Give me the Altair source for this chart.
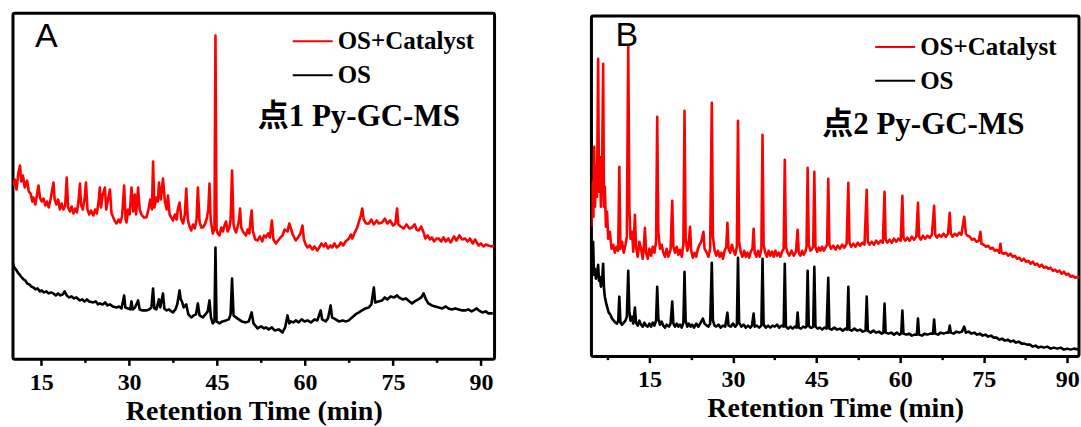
import altair as alt
import pandas as pd

# ---------------- data (retention time in min, intensity in a.u.) ----------------
A_red_t = [10.2,10.5,10.8,11.1,11.4,11.6,11.9,12.2,12.6,12.9,13.2,13.5,13.7,14.0,14.3,14.55,14.8,15.1,15.4,15.7,
           16.0,16.3,16.6,16.9,17.1,17.3,17.6,17.9,18.2,18.5,18.8,19.1,19.36,19.6,19.9,20.2,20.5,20.8,21.1,21.4,
           21.62,21.8,22.1,22.4,22.64,22.9,23.2,23.5,23.9,24.2,24.5,24.8,25.0,25.2,25.5,25.87,26.1,26.4,26.72,27.0,
           27.3,27.6,27.85,28.2,28.5,28.8,29.15,29.4,29.55,29.8,30.1,30.4,30.7,30.96,31.2,31.53,31.8,32.1,32.5,32.94,
           33.3,33.6,33.9,34.08,34.3,34.64,34.9,35.09,35.4,35.77,36.1,36.4,36.62,36.9,37.2,37.47,37.8,38.1,38.3,38.6,
           38.9,39.2,39.5,39.74,40.0,40.3,40.59,40.9,41.2,41.5,41.72,42.0,42.3,42.57,42.9,43.2,43.5,43.7,43.9,44.26,
           44.55,44.72,44.9,45.1,45.4,45.7,46.0,46.3,46.53,46.8,47.1,47.3,47.55,47.8,48.0,48.23,48.5,48.75,48.91,49.1,
           49.4,49.92,50.2,50.5,50.7,50.89,51.1,51.5,51.9,52.3,52.7,53.0,53.32,53.7,54.0,54.34,54.6,55.02,55.4,55.8,
           56.15,56.5,57.0,57.3,57.57,57.9,58.41,58.8,59.2,59.55,59.8,60.1,60.4,60.8,61.24,61.6,62.09,62.4,62.8,63.2,
           63.51,63.9,64.3,64.64,65.0,65.4,65.77,66.1,66.5,66.9,67.47,67.8,68.04,68.4,68.89,69.2,69.5,69.74,70.0,70.4,
           70.87,71.3,71.72,72.2,72.6,73.13,73.6,74.0,74.5,75.0,75.4,75.68,75.9,76.3,76.8,77.3,77.8,78.23,78.7,79.0,
           79.36,79.8,80.2,80.49,80.9,81.3,81.62,82.0,82.4,82.75,83.2,83.6,84.0,84.45,84.8,85.02,85.4,85.8,86.3,86.8,
           87.28,87.7,88.1,88.6,89.0,89.26,89.6,90.0,90.4,90.8,91.25,91.8,92.2]
A_red_v = [174,180,170,186,194,178,184,172,179,168,166,158,162,155,165,174,162,158,161,154,
           158,152,160,170,177,160,155,160,150,156,150,154,182,152,148,153,146,151,147,160,
           176,155,150,160,177,150,145,149,144,150,146,158,172,152,165,172,150,160,170,146,
           142,138,136,140,137,143,174,140,137,150,145,172,148,165,145,172,150,145,142,142,
           150,160,150,198,152,162,158,177,160,181,158,150,164,145,142,139,145,140,150,157,
           140,136,145,171,140,133,129,135,131,140,172,138,132,132,135,140,150,176,140,126,
           130,324,130,126,124,132,128,135,138,128,132,140,189,135,130,127,133,140,151,132,
           128,124,130,126,140,149,128,120,119,123,118,124,122,126,122,139,120,116,119,122,
           124,130,128,136,131,125,119,122,126,134,120,115,112,114,110,113,109,112,116,113,
           116,111,114,112,116,112,114,117,114,118,121,125,121,126,132,138,144,151,140,136,
           136,140,135,139,136,137,141,136,139,134,136,151,135,133,131,135,131,132,135,130,
           129,133,127,121,124,120,122,118,121,121,118,122,118,121,117,119,123,119,124,120,
           121,118,121,116,120,117,114,116,113,115,114,113,114]

A_os_t = [10.2,10.4,10.7,11.0,11.43,11.7,12.0,12.3,12.6,13.0,13.3,13.7,14.0,14.4,14.8,15.1,15.5,15.9,16.3,16.7,
          17.09,17.5,17.9,18.3,18.7,19.0,19.36,19.8,20.2,20.6,21.0,21.62,22.0,22.4,22.8,23.2,23.89,24.3,24.7,25.02,
          25.5,25.9,26.3,26.72,27.2,27.85,28.3,28.7,29.15,29.35,29.8,30.2,30.4,30.6,31.0,31.53,31.8,32.3,32.94,33.4,
          33.8,34.08,34.3,34.64,35.09,35.3,35.77,36.0,36.4,36.8,37.2,37.47,37.9,38.2,38.4,38.6,38.8,39.0,39.3,39.74,
          40.1,40.59,41.0,41.4,41.72,42.0,42.57,43.0,43.4,43.7,43.95,44.26,44.55,44.72,44.9,45.4,45.9,46.53,47.0,47.3,
          47.55,47.8,48.23,48.7,49.2,49.92,50.4,50.89,51.2,51.9,52.5,53.0,53.32,53.8,54.34,54.8,55.5,56.15,56.6,57.0,
          57.3,57.57,58.0,58.41,58.9,59.4,59.9,60.4,61.0,61.6,62.1,62.66,62.9,63.51,63.9,64.36,64.6,65.2,65.77,66.4,
          67.0,67.47,68.0,68.6,69.17,69.7,70.3,70.87,71.3,71.72,71.95,72.5,73.13,73.6,74.0,74.6,75.2,75.68,76.0,76.6,
          77.2,77.8,78.23,78.7,79.3,79.8,80.21,80.6,81.0,81.62,82.2,82.8,83.4,84.0,84.45,85.0,85.6,86.2,86.8,87.28,
          87.8,88.4,89.0,89.26,89.6,90.2,90.8,91.25,92.0]
A_os_v = [96,92,90,87,84,82,80,79,76,75,73,72,70,71,68,69,67,68,66,67,
          66,64,66,64,65,68,64,62,63,61,62,59,60,58,60,58,57,58,55,56,
          55,57,54,55,53,52,53,51,64,52,51,50,58,50,52,59,50,49,49,50,
          52,71,51,50,60,52,66,51,49,50,48,47,50,55,62,69,60,58,52,55,
          45,42,44,45,56,44,42,45,48,59,42,36,38,112,38,36,38,39,40,45,
          81,44,42,40,38,37,38,47,36,31,33,31,32,30,32,29,30,27,32,44,
          36,38,37,39,37,40,38,39,37,40,39,49,40,38,41,54,42,40,38,39,
          38,39,42,45,47,49,51,52,55,72,57,58,59,62,60,63,62,64,62,60,
          61,58,56,58,60,62,66,60,56,54,53,52,51,53,51,50,51,50,49,49,
          50,48,50,51,49,47,48,46,46]

B_red_t = [4.6,4.8,4.95,5.1,5.25,5.4,5.6,5.8,5.95,6.1,6.3,6.5,6.7,6.85,7.0,7.2,7.4,7.6,7.9,8.2,
           8.5,8.8,9.1,9.4,9.6,9.8,10.1,10.4,10.7,10.95,11.2,11.4,11.6,11.9,12.1,12.4,12.6,12.9,13.2,13.5,
           13.8,14.0,14.2,14.4,14.7,15.0,15.3,15.6,15.9,16.2,16.4,16.6,16.9,17.2,17.5,17.8,18.1,18.4,18.8,19.1,
           19.3,19.6,19.9,20.2,20.5,20.8,21.1,21.3,21.5,21.8,22.0,22.3,22.5,22.8,23.1,23.4,23.7,24.0,24.3,24.7,
           24.9,25.3,25.6,25.9,26.2,26.4,26.7,27.0,27.3,27.6,27.9,28.2,28.5,28.8,29.0,29.2,29.5,29.8,30.1,30.4,
           30.7,30.9,31.1,31.4,31.7,32.0,32.3,32.6,32.9,33.2,33.5,33.7,33.9,34.2,34.5,34.8,35.1,35.3,35.5,35.8,
           36.1,36.4,36.7,37.0,37.3,37.6,37.9,38.2,38.5,38.8,39.1,39.3,39.5,39.8,40.1,40.5,40.9,41.3,41.6,41.8,
           42.1,42.4,42.7,43.0,43.2,43.4,43.6,43.9,44.2,44.4,44.6,44.8,45.1,45.4,45.7,46.0,46.3,46.6,46.9,47.1,
           47.3,47.6,48.0,48.4,48.8,49.2,49.6,50.0,50.4,50.7,50.9,51.2,51.6,52.0,52.4,52.8,53.2,53.6,54.0,54.2,
           54.5,54.9,55.3,55.7,56.1,56.5,56.9,57.2,57.4,57.7,58.1,58.5,58.9,59.3,59.7,60.1,60.4,60.6,60.9,61.3,
           61.7,62.1,62.5,62.9,63.2,63.4,63.7,64.1,64.5,64.9,65.3,65.7,66.1,66.3,66.6,67.0,67.4,67.8,68.2,68.6,
           68.9,69.1,69.4,69.8,70.2,70.6,71.0,71.5,71.8,72.1,72.5,72.9,73.3,73.7,74.1,74.4,74.6,75.0,75.4,75.8,
           76.2,76.6,77.0,77.4,77.8,78.0,78.2,78.6,79.0,79.4,79.8,80.2,80.6,81.0,81.4,81.8,82.2,82.6,83.0,83.4,
           83.8,84.2,84.6,85.0,85.4,85.8,86.2,86.6,87.0,87.4,87.8,88.2,88.6,89.0,89.4,89.8,90.2,90.6,91.0,91.4,92.1]
B_red_v = [130,175,140,210,150,190,160,298,165,200,150,185,293,150,170,130,145,118,125,108,
           112,104,110,106,190,108,115,104,112,120,311,150,118,125,105,142,110,100,115,108,
           98,110,129,104,98,108,101,110,104,115,240,125,108,112,104,100,108,100,107,156,
           110,104,110,102,107,100,112,246,118,106,110,130,106,99,104,100,108,112,115,125,
           108,104,100,108,254,120,106,101,106,100,104,98,106,110,134,108,104,112,106,102,
           110,236,115,104,100,106,100,104,99,105,108,128,104,100,106,100,108,222,112,104,
           100,106,101,105,100,106,101,104,100,105,108,197,110,104,101,106,101,105,127,104,
           101,106,102,105,110,189,112,106,108,110,185,110,105,109,106,110,106,109,112,178,
           112,108,111,107,111,108,112,109,113,174,114,110,113,110,114,111,114,112,167,115,
           112,115,112,116,113,116,114,165,117,114,117,114,118,115,118,116,161,119,116,119,
           116,120,117,120,154,120,117,121,118,121,119,122,151,122,119,122,120,123,120,123,
           144,123,120,123,121,124,122,140,123,121,120,117,118,115,116,125,113,112,110,111,
           108,109,106,107,104,113,104,103,104,101,103,100,101,98,99,96,98,95,96,93,
           95,92,93,90,92,89,90,88,89,86,87,85,86,83,85,82,83,80,81,79,80]

B_os_t = [4.6,4.75,4.9,5.05,5.2,5.4,5.6,5.8,5.95,6.1,6.3,6.5,6.7,6.85,7.0,7.3,7.7,8.0,8.3,8.6,
          8.9,9.2,9.4,9.6,9.8,10.1,10.4,10.7,10.95,11.2,11.4,11.6,11.9,12.1,12.4,12.6,12.9,13.2,13.5,13.8,
          14.1,14.4,14.7,15.0,15.3,15.6,15.9,16.2,16.4,16.6,16.9,17.2,17.5,17.8,18.1,18.5,18.8,19.1,19.3,19.6,
          19.9,20.2,20.5,20.8,21.1,21.3,21.5,21.8,22.1,22.4,22.7,23.0,23.4,23.8,24.2,24.6,24.9,25.3,25.6,25.9,
          26.2,26.4,26.7,27.0,27.4,27.8,28.2,28.6,29.0,29.2,29.6,30.0,30.4,30.7,30.9,31.1,31.5,31.9,32.3,32.7,
          33.1,33.4,33.7,33.9,34.3,34.7,35.1,35.3,35.5,35.9,36.3,36.7,37.1,37.5,37.9,38.3,38.7,39.1,39.3,39.5,
          39.9,40.3,40.7,41.1,41.4,41.6,41.8,42.2,42.6,43.0,43.2,43.4,43.6,43.9,44.2,44.4,44.6,44.8,45.2,45.6,
          46.0,46.4,46.8,47.1,47.3,47.7,48.2,48.7,49.2,49.7,50.2,50.5,50.7,50.9,51.3,51.8,52.3,52.8,53.3,53.8,
          54.0,54.2,54.7,55.2,55.7,56.2,56.7,57.0,57.2,57.4,57.9,58.4,58.9,59.4,59.9,60.2,60.4,60.6,61.1,61.6,
          62.1,62.6,63.0,63.2,63.4,63.9,64.4,64.9,65.4,65.9,66.1,66.3,66.8,67.3,67.8,68.3,68.7,68.9,69.1,69.6,
          70.1,70.6,71.1,71.5,71.8,72.3,72.8,73.3,73.8,74.3,74.8,75.3,75.8,76.3,76.8,77.3,77.8,78.3,78.8,79.3,
          79.8,80.3,80.8,81.3,81.8,82.3,82.8,83.3,83.8,84.3,84.8,85.3,85.8,86.4,87.0,87.6,88.2,88.8,89.4,90.0,
          90.6,91.2,92.1]
B_os_v = [77,90,115,82,88,78,84,92,76,80,70,75,93,68,60,52,44,42,38,36,
          34,33,36,60,34,32,34,36,40,86,45,36,40,33,49,34,31,36,32,30,
          34,31,30,33,30,34,31,36,70,38,32,35,31,29,32,30,33,55,33,30,
          33,30,32,29,34,85,36,30,33,30,32,29,33,30,34,38,33,31,30,33,
          94,36,31,30,32,29,31,30,44,31,30,33,30,32,99,34,30,32,29,31,
          29,31,43,30,31,29,31,98,32,29,31,29,31,30,32,29,31,30,93,30,
          28,30,28,30,29,44,29,28,30,29,30,86,31,29,29,30,90,30,28,29,
          27,29,28,79,28,27,29,27,28,26,28,27,70,27,26,28,26,27,25,26,
          60,26,24,26,24,25,23,24,53,24,23,24,22,24,22,23,46,23,22,23,
          21,22,22,38,22,21,23,22,23,23,37,23,22,24,23,24,24,31,24,23,
          25,24,25,30,24,25,23,24,22,23,21,22,20,21,19,19,17,18,16,17,
          15,16,14,15,13,13,12,12,10,11,9,10,9,10,8,9,8,9,7,8,
          7,8,7]

SERIES = ["OS+Catalyst", "OS"]
COLORS = ["#ff0000", "#000000"]
TICKS = [7.5, 15, 22.5, 30, 37.5, 45, 52.5, 60, 67.5, 75, 82.5, 90]
X_TITLE = "Retention Time (min)"
PANEL_LETTERS = ["A", "B"]
PANEL_LABELS = ["点1 Py-GC-MS", "点2 Py-GC-MS"]

SERIF = "Liberation Serif, Times New Roman, Noto Sans CJK SC, serif"


def panel(red_t, red_v, os_t, os_v, xdom, ydom, w, h, letter, label,
          legx, legy, letx, lety, labx, laby):
    df = pd.concat([
        pd.DataFrame({"t": red_t, "v": red_v, "s": SERIES[0]}),
        pd.DataFrame({"t": os_t, "v": os_v, "s": SERIES[1]}),
    ], ignore_index=True)
    lines = alt.Chart(df).mark_line(strokeWidth=2.6, clip=True, strokeJoin="round").encode(
        x=alt.X("t:Q", title=X_TITLE,
                scale=alt.Scale(domain=xdom, nice=False, zero=False),
                axis=alt.Axis(values=TICKS, grid=False, domain=False,
                              labelExpr="datum.value % 15 === 0 ? datum.label : ''",
                              tickSize={"condition": {"test": "datum.value % 15 === 0", "value": 6}, "value": 3},
                              tickWidth=2.5, tickColor="black",
                              labelFont=SERIF, labelFontSize=24, labelFontWeight="bold",
                              labelColor="black", labelPadding=5, labelOverlap=False, labelFlush=False,
                              titleFont=SERIF, titleFontSize=28, titleFontWeight="bold",
                              titleColor="black", titlePadding=3)),
        y=alt.Y("v:Q", scale=alt.Scale(domain=ydom, nice=False, zero=False), axis=None),
        color=alt.Color("s:N", scale=alt.Scale(domain=SERIES, range=COLORS),
                        legend=alt.Legend(orient="none", legendX=legx, legendY=legy, title=None,
                                          symbolType="stroke", symbolSize=1600, symbolStrokeWidth=2,
                                          labelFont=SERIF, labelFontSize=25, labelFontWeight="bold",
                                          labelColor="black", labelOffset=4, rowPadding=-4, padding=0)),
    )
    let_df = pd.DataFrame({"txt": [letter]})
    lab_df = pd.DataFrame({"txt": [label]})
    let_mark = alt.Chart(let_df).mark_text(font="Liberation Sans, Arial, sans-serif", fontSize=34,
                                           align="left", baseline="alphabetic", color="black").encode(
        x=alt.value(letx), y=alt.value(lety), text="txt:N")
    lab_mark = alt.Chart(lab_df).mark_text(font=SERIF, fontSize=31, fontWeight="bold",
                                           align="left", baseline="middle", color="black").encode(
        x=alt.value(labx), y=alt.value(laby), text="txt:N")
    return alt.layer(lines, let_mark, lab_mark).properties(width=w, height=h)


pa = panel(A_red_t, A_red_v, A_os_t, A_os_v, [10.2, 92.3], [0, 346.5], 482, 346.5,
           PANEL_LETTERS[0], PANEL_LABELS[0], 279, 7, 22, 34, 245, 104)
pb = panel(B_red_t, B_red_v, B_os_t, B_os_v, [4.6, 92.1], [0, 341], 488, 341,
           PANEL_LETTERS[1], PANEL_LABELS[1], 283, 10, 24, 30, 231, 109)

chart = alt.hconcat(pa, pb, spacing=93, center=True).resolve_legend(color="independent").properties(
    padding={"left": 11, "top": 11, "right": 0, "bottom": 0}, background="white"
).configure_view(stroke="black", strokeWidth=3, cornerRadius=2)

chart.save("out.html", embed_options={"renderer": "svg", "actions": False})
